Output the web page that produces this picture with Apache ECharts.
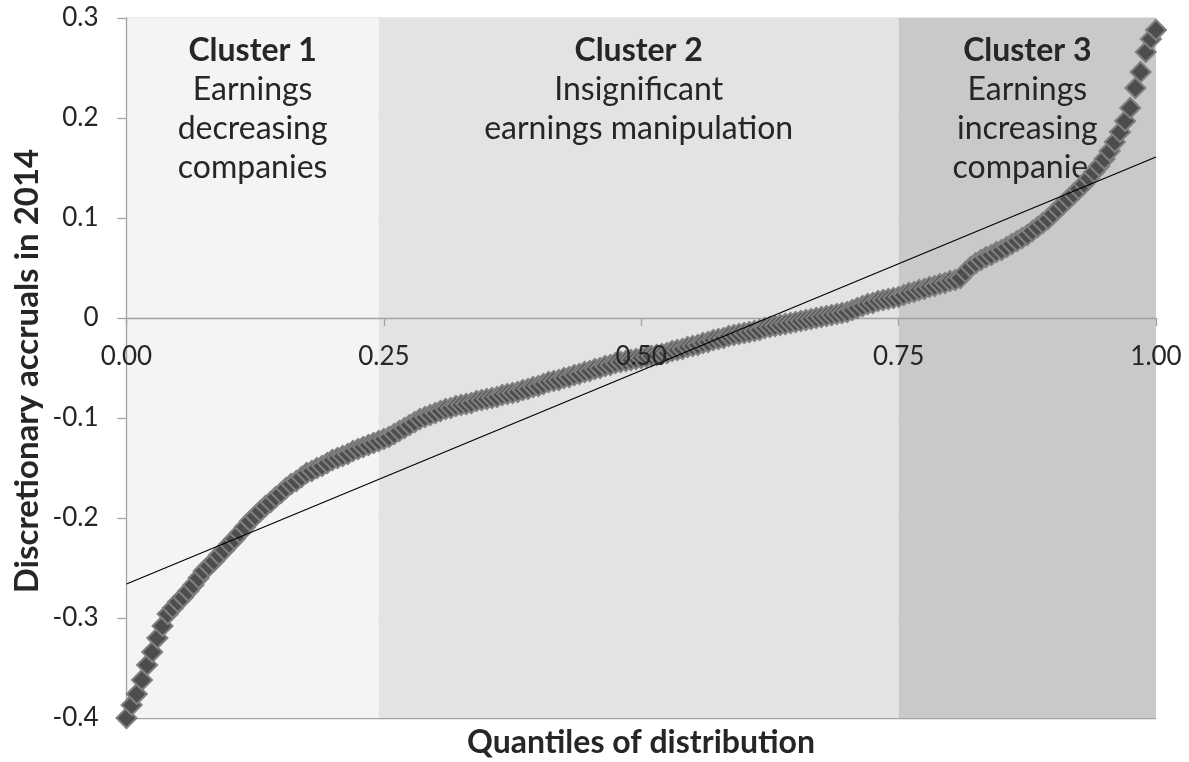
<!DOCTYPE html>
<html><head><meta charset="utf-8">
<script src="https://cdn.jsdelivr.net/npm/echarts@6/dist/echarts.min.js"></script>
<style>html,body{margin:0;padding:0;background:#fff}#c{width:1189px;height:762px}</style>
</head><body><div id="c"></div>
<script>
// Discretionary accruals (2014) at evenly spaced quantiles 0, 0.005, ..., 1
const accruals = [
 -0.400,-0.387,-0.376,-0.362,-0.347,-0.334,-0.320,-0.308,-0.296,-0.290,-0.284,-0.279,-0.273,-0.267,-0.260,-0.253,-0.248,-0.243,-0.237,-0.232,
 -0.226,-0.221,-0.215,-0.209,-0.203,-0.198,-0.193,-0.188,-0.184,-0.179,-0.175,-0.170,-0.166,-0.163,-0.159,-0.155,-0.153,-0.150,-0.148,-0.145,
 -0.142,-0.140,-0.138,-0.136,-0.133,-0.131,-0.129,-0.127,-0.125,-0.123,-0.121,-0.119,-0.116,-0.113,-0.110,-0.107,-0.104,-0.101,-0.099,-0.097,
 -0.095,-0.093,-0.091,-0.090,-0.088,-0.087,-0.086,-0.085,-0.083,-0.082,-0.081,-0.080,-0.079,-0.077,-0.076,-0.075,-0.074,-0.072,-0.071,-0.069,
 -0.068,-0.066,-0.064,-0.063,-0.062,-0.060,-0.059,-0.057,-0.056,-0.054,-0.053,-0.051,-0.050,-0.048,-0.047,-0.045,-0.044,-0.043,-0.042,-0.041,
 -0.040,-0.039,-0.038,-0.037,-0.036,-0.035,-0.033,-0.032,-0.031,-0.029,-0.028,-0.027,-0.025,-0.024,-0.022,-0.021,-0.020,-0.018,-0.017,-0.016,
 -0.015,-0.014,-0.013,-0.012,-0.010,-0.009,-0.008,-0.007,-0.006,-0.005,-0.004,-0.003,-0.002,-0.001,0.000,0.001,0.002,0.003,0.004,0.005,
 0.006,0.008,0.010,0.012,0.014,0.015,0.017,0.018,0.019,0.020,0.021,0.023,0.025,0.026,0.028,0.029,0.031,0.032,0.034,0.035,
 0.037,0.038,0.040,0.046,0.051,0.055,0.058,0.061,0.063,0.066,0.068,0.071,0.074,0.077,0.080,0.083,0.087,0.091,0.095,0.099,
 0.104,0.109,0.114,0.119,0.124,0.129,0.134,0.140,0.146,0.152,0.159,0.167,0.176,0.186,0.197,0.210,0.230,0.246,0.266,0.279,
 0.288
];
// Linear trend line values at quantile 0 and quantile 1
const trendQuantiles = [0, 1];
const trendValues = [-0.266, 0.161];

const xTickLabels = ['0.00', '0.25', '0.50', '0.75', '1.00'];
const yTickLabels = ['-0.4', '-0.3', '-0.2', '-0.1', '0', '0.1', '0.2', '0.3'];

const bandEdges = [0, 0.245, 0.75, 1];
const bandColors = ['#f4f4f4', '#e3e3e3', '#c9c9c9'];
const clusterTitles = ['Cluster 1', 'Cluster 2', 'Cluster 3'];
const clusterLines = [
  ['Earnings', 'decreasing', 'companies'],
  ['Insignificant', 'earnings manipulation'],
  ['Earnings', 'increasing', 'companies']
];
const xTitle = 'Quantiles of distribution';
const yTitle = 'Discretionary accruals in 2014';

const FONT = 'Lato';
const TXT = '#262626';
const GRID = '#a3a3a3';

const n = accruals.length;
const points = accruals.map((v, i) => [i / (n - 1), v]);
const trend = trendQuantiles.map((q, i) => [q, trendValues[i]]);

const bandAreas = bandColors.map((c, i) => [
  {
    xAxis: bandEdges[i], yAxis: -0.4,
    itemStyle: { color: c },
    label: {
      formatter: '{t|' + clusterTitles[i] + '}\n' + clusterLines[i].map(s => '{d|' + s + '}').join('\n')
    }
  },
  { xAxis: bandEdges[i + 1], yAxis: 0.3 }
]);

const chart = echarts.init(document.getElementById('c'), null, { renderer: 'canvas' });
chart.setOption({
  animation: false,
  backgroundColor: '#fff',
  grid: { left: 126.5, right: 33, top: 18, bottom: 44, containLabel: false },
  xAxis: [
    {
      type: 'value', min: 0, max: 1, interval: 0.25, position: 'bottom', z: 1,
      axisLine: { show: true, onZero: true, lineStyle: { color: GRID, width: 1.3 } },
      axisTick: { show: true, inside: false, length: 8, lineStyle: { color: GRID, width: 1.3 } },
      axisLabel: { show: false },
      splitLine: { show: false }
    },
    {
      // label-only axis, raised from the plot bottom (-0.4) to the zero line
      type: 'value', min: 0, max: 1, interval: 0.25, position: 'bottom', offset: -400, z: 6,
      axisLine: { show: false, onZero: false },
      axisTick: { show: false },
      axisLabel: {
        show: true, margin: 26, color: TXT, fontFamily: FONT, fontSize: 26,
        formatter: v => xTickLabels[Math.round(v * 4)]
      },
      splitLine: { show: false }
    }
  ],
  yAxis: {
    type: 'value', min: -0.4, max: 0.3, interval: 0.1, z: 1,
    axisLine: { show: true, lineStyle: { color: GRID, width: 1.3 } },
    axisTick: { show: true, inside: false, length: 9, lineStyle: { color: GRID, width: 1.3 } },
    axisLabel: {
      margin: 28, color: TXT, fontFamily: FONT, fontSize: 26,
      formatter: v => yTickLabels[Math.round(v * 10) + 4]
    },
    splitLine: { show: true, lineStyle: { color: GRID, width: 1.3 } }
  },
  graphic: [
    {
      type: 'text', x: 641, y: 743, z: 10,
      style: { text: xTitle, textAlign: 'center', textVerticalAlign: 'middle',
        font: 'bold 32px ' + FONT, fill: TXT }
    },
    {
      type: 'text', x: 27, y: 371, rotation: Math.PI / 2, z: 10,
      style: { text: yTitle, textAlign: 'center', textVerticalAlign: 'middle',
        font: 'bold 33px ' + FONT, fill: TXT }
    }
  ],
  series: [
    {
      type: 'line', data: [], z: 0, silent: true,
      markArea: {
        silent: true,
        label: {
          show: true, position: 'insideTop', distance: 13, color: TXT, fontFamily: FONT,
          rich: {
            t: { fontFamily: FONT, fontSize: 32, fontWeight: 'bold', lineHeight: 39, color: TXT },
            d: { fontFamily: FONT, fontSize: 32, lineHeight: 39, color: TXT }
          }
        },
        data: bandAreas
      }
    },
    {
      type: 'scatter', data: points, z: 3, silent: true,
      symbol: 'diamond', symbolSize: 20,
      itemStyle: { color: '#4d4d4d', borderColor: '#808080', borderWidth: 2, opacity: 1 }
    },
    {
      type: 'line', data: trend, z: 4, silent: true, symbol: 'none',
      lineStyle: { color: '#000', width: 1.2 }
    }
  ]
});
</script>
</body></html>
